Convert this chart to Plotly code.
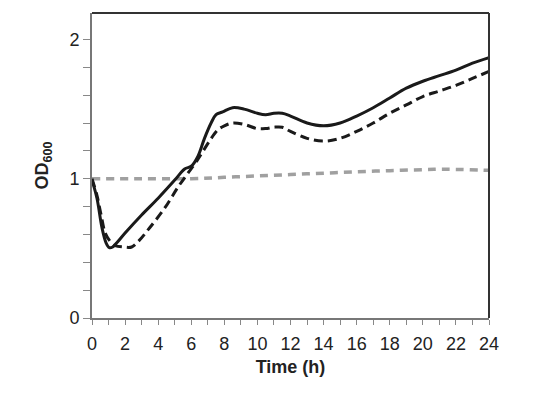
import plotly.graph_objects as go

# Data
t_solid = [0, 0.3, 0.6, 0.85, 1.05, 1.25, 1.5, 2, 3, 4, 5, 5.6, 6.0, 6.4, 6.8, 7.2, 7.5, 7.9, 8.5, 9.2, 10, 10.5, 11, 11.5, 12, 13, 14, 15, 16, 17, 18, 19, 20, 21, 22, 23, 24]
od_solid = [0.99, 0.86, 0.65, 0.54, 0.505, 0.51, 0.54, 0.61, 0.74, 0.86, 0.99, 1.07, 1.09, 1.16, 1.29, 1.40, 1.46, 1.48, 1.51, 1.50, 1.47, 1.46, 1.47, 1.47, 1.45, 1.40, 1.38, 1.40, 1.45, 1.51, 1.58, 1.65, 1.70, 1.74, 1.78, 1.83, 1.87]

t_dash = [0, 0.3, 0.55, 0.8, 1.1, 1.4, 1.9, 2.4, 2.8, 3.5, 4.4, 5.2, 5.8, 6.35, 7.1, 7.6, 8.0, 8.5, 9.2, 10, 10.5, 11, 11.5, 12, 13, 14, 15, 16, 17, 18, 19, 20, 21, 22, 23, 24]
od_dash = [1.0, 0.88, 0.74, 0.61, 0.55, 0.52, 0.51, 0.51, 0.55, 0.65, 0.79, 0.94, 1.04, 1.13, 1.27, 1.35, 1.38, 1.40, 1.39, 1.36, 1.36, 1.37, 1.37, 1.34, 1.29, 1.27, 1.29, 1.34, 1.40, 1.47, 1.53, 1.59, 1.63, 1.67, 1.72, 1.77]

t_gray = [0, 3, 6, 8, 10, 12, 14, 16, 18, 20, 21, 22, 24]
od_gray = [1.0, 1.0, 1.0, 1.01, 1.02, 1.03, 1.04, 1.05, 1.058, 1.065, 1.068, 1.067, 1.06]

fig = go.Figure()
fig.add_trace(go.Scatter(x=t_gray, y=od_gray, mode="lines",
                         line=dict(color="#a0a0a0", width=3.5, dash="8px,6px", shape="spline"),
                         showlegend=False))
fig.add_trace(go.Scatter(x=t_dash, y=od_dash, mode="lines",
                         line=dict(color="#1a1a1a", width=3, dash="9px,5px", shape="spline"),
                         showlegend=False))
fig.add_trace(go.Scatter(x=t_solid, y=od_solid, mode="lines",
                         line=dict(color="#1a1a1a", width=3, shape="spline"),
                         showlegend=False))

fam = "Liberation Sans, Arial, sans-serif"
axis_font = dict(family=fam, size=18, color="#222")

fig.update_layout(
    width=545, height=398,
    margin=dict(l=84, r=64, t=5, b=88),
    paper_bgcolor="white", plot_bgcolor="white",
    xaxis=dict(range=[0, 24], tick0=0, dtick=2,
               ticks="outside", ticklen=5, tickwidth=1.2, tickcolor="#888",
               minor=dict(dtick=1, ticks="outside", ticklen=5, tickwidth=1.2, tickcolor="#888", showgrid=False),
               showline=True, linecolor="#777", linewidth=2, showgrid=False, zeroline=False,
               tickfont=axis_font, ticklabelstandoff=3,
               title=dict(text="<b>Time (h)</b>", font=dict(family=fam, size=18, color="#222"), standoff=8)),
    yaxis=dict(range=[0, 2.19], tick0=0, dtick=1,
               ticks="outside", ticklen=7, tickwidth=1.2, tickcolor="#888",
               minor=dict(dtick=0.2, ticks="outside", ticklen=7, tickwidth=1.2, tickcolor="#888", showgrid=False),
               showline=True, linecolor="#777", linewidth=2, showgrid=False, zeroline=False,
               tickfont=axis_font,
               title=dict(text="<b>OD<sub>600</sub></b>", font=dict(family=fam, size=18, color="#222"), standoff=16)),
    shapes=[
        dict(type="line", xref="paper", yref="paper", x0=0, x1=1, y0=1, y1=1, line=dict(color="#333", width=2)),
        dict(type="line", xref="paper", yref="paper", x0=1, x1=1, y0=0, y1=1, line=dict(color="#333", width=2)),
    ],
)

fig.write_html("out.html")
